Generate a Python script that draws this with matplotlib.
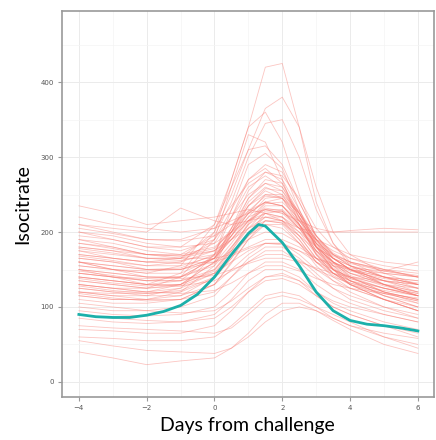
import numpy as np
import matplotlib
matplotlib.use("Agg")
import matplotlib.pyplot as plt
from matplotlib.ticker import MultipleLocator

days = [-4, -3, -2, -1, 0, 0.5, 1, 1.5, 2, 2.5, 3, 3.5, 4, 5, 6]

# Individual trajectories (isocitrate), one row per subject
subjects = [
    [160, 150, 145, 155, 210, 270, 340, 420, 425, 340, 240, 185, 155, 130, 115],
    [175, 165, 160, 165, 200, 250, 310, 365, 380, 340, 260, 200, 170, 145, 130],
    [140, 135, 130, 145, 200, 270, 340, 360, 320, 250, 190, 160, 140, 120, 105],
    [185, 180, 170, 170, 195, 240, 300, 345, 350, 300, 230, 185, 160, 140, 125],
    [130, 125, 125, 140, 190, 260, 330, 320, 270, 210, 170, 145, 130, 110, 95],
    [200, 190, 180, 180, 210, 260, 310, 315, 290, 240, 195, 170, 155, 140, 130],
    [120, 115, 115, 125, 170, 230, 290, 305, 285, 230, 180, 150, 130, 110, 95],
    [165, 160, 155, 160, 190, 230, 270, 290, 280, 240, 195, 165, 150, 135, 120],
    [150, 140, 130, 135, 170, 220, 270, 285, 265, 220, 180, 155, 140, 120, 110],
    [210, 200, 190, 190, 205, 235, 265, 280, 275, 245, 205, 180, 165, 150, 140],
    [135, 130, 125, 130, 160, 205, 255, 280, 270, 230, 185, 155, 135, 115, 100],
    [180, 175, 165, 165, 185, 220, 260, 275, 260, 220, 180, 160, 150, 140, 135],
    [115, 110, 110, 120, 155, 200, 245, 270, 265, 225, 180, 150, 130, 110, 95],
    [160, 150, 140, 140, 165, 205, 245, 265, 260, 225, 190, 165, 150, 130, 115],
    [195, 190, 180, 175, 190, 220, 250, 265, 255, 220, 190, 170, 160, 150, 145],
    [145, 140, 135, 140, 165, 200, 240, 260, 250, 215, 180, 160, 145, 130, 120],
    [125, 120, 120, 130, 160, 195, 235, 255, 245, 210, 170, 145, 130, 115, 100],
    [170, 165, 160, 160, 175, 205, 235, 250, 245, 215, 185, 165, 150, 135, 125],
    [155, 150, 145, 145, 165, 195, 225, 240, 235, 210, 180, 160, 145, 130, 120],
    [190, 185, 175, 170, 180, 200, 225, 240, 235, 210, 185, 170, 160, 150, 140],
    [130, 125, 120, 125, 145, 175, 210, 235, 235, 210, 175, 150, 135, 115, 105],
    [175, 170, 165, 165, 175, 195, 220, 230, 225, 205, 180, 165, 155, 140, 130],
    [140, 135, 130, 130, 150, 180, 210, 225, 220, 195, 165, 145, 135, 120, 110],
    [220, 210, 205, 200, 205, 215, 225, 230, 225, 215, 205, 200, 200, 200, 200],
    [165, 160, 150, 150, 165, 190, 215, 230, 230, 210, 185, 165, 150, 130, 115],
    [120, 115, 110, 115, 140, 170, 200, 220, 215, 190, 160, 140, 125, 110, 95],
    [200, 195, 185, 180, 185, 200, 215, 225, 220, 205, 190, 180, 170, 160, 155],
    [150, 145, 140, 140, 155, 180, 205, 220, 220, 200, 170, 150, 135, 120, 110],
    [110, 105, 105, 110, 130, 160, 190, 210, 210, 185, 155, 135, 120, 100, 85],
    [235, 225, 210, 215, 220, 225, 230, 225, 215, 205, 200, 200, 202, 205, 203],
    [180, 175, 170, 168, 175, 190, 205, 215, 212, 195, 175, 160, 150, 140, 135],
    [135, 130, 125, 128, 145, 170, 195, 210, 205, 185, 160, 145, 135, 125, 115],
    [210, 205, 200, 232, 215, 210, 215, 220, 215, 200, 180, 165, 155, 145, 140],
    [160, 155, 150, 150, 160, 175, 190, 200, 198, 185, 165, 150, 140, 125, 115],
    [125, 120, 115, 115, 130, 150, 170, 185, 185, 170, 150, 135, 125, 110, 100],
    [100, 95, 95, 100, 115, 140, 165, 180, 180, 165, 145, 125, 110, 95, 85],
    [145, 140, 135, 135, 145, 160, 175, 185, 185, 175, 160, 150, 140, 130, 125],
    [190, 180, 170, 165, 165, 170, 180, 190, 190, 180, 165, 155, 150, 145, 140],
    [115, 110, 110, 110, 120, 140, 160, 175, 175, 160, 140, 125, 115, 100, 90],
    [170, 165, 160, 158, 160, 168, 178, 185, 183, 175, 165, 158, 152, 148, 160],
    [95, 90, 88, 90, 100, 120, 145, 160, 160, 150, 130, 115, 105, 90, 80],
    [140, 135, 130, 128, 135, 148, 160, 170, 170, 162, 150, 140, 132, 122, 115],
    [85, 80, 78, 80, 90, 110, 135, 150, 150, 140, 120, 105, 95, 80, 70],
    [150, 145, 140, 138, 142, 150, 158, 165, 165, 160, 152, 145, 140, 135, 130],
    [130, 125, 120, 118, 122, 132, 145, 155, 155, 148, 138, 130, 125, 118, 112],
    [70, 68, 65, 65, 75, 95, 120, 140, 145, 135, 115, 100, 90, 75, 65],
    [60, 58, 55, 55, 60, 75, 95, 115, 120, 115, 100, 85, 75, 65, 58],
    [40, 32, 23, 28, 32, 45, 65, 90, 105, 105, 95, 82, 70, 50, 38],
    [75, 72, 70, 68, 65, 72, 90, 110, 115, 110, 100, 90, 80, 60, 45],
    [90, 85, 82, 80, 85, 100, 120, 135, 138, 130, 115, 100, 90, 75, 60],
    [105, 100, 95, 92, 95, 108, 125, 140, 142, 135, 120, 108, 100, 90, 80],
    [55, 48, 42, 40, 38, 45, 60, 80, 95, 100, 95, 85, 75, 60, 50],
    [155, 150, 148, 150, 165, 190, 220, 245, 248, 225, 190, 165, 150, 135, 125],
    [145, 140, 138, 140, 158, 185, 215, 240, 245, 225, 195, 170, 155, 140, 130],
    [178, 172, 165, 162, 170, 190, 215, 232, 228, 205, 175, 155, 145, 135, 130],
    [128, 122, 118, 120, 138, 165, 198, 225, 228, 205, 172, 150, 138, 125, 118],
    [160, 155, 150, 152, 170, 200, 235, 258, 255, 225, 185, 160, 148, 138, 132],
    [118, 112, 108, 110, 130, 158, 190, 215, 215, 195, 165, 145, 132, 118, 108],
    [205, 198, 190, 188, 195, 210, 228, 240, 235, 215, 190, 175, 165, 155, 148],
    [138, 132, 128, 130, 148, 178, 212, 238, 240, 218, 182, 158, 142, 128, 118],
    [168, 162, 155, 155, 168, 195, 225, 250, 250, 228, 195, 172, 160, 148, 140],
    [148, 142, 135, 135, 150, 175, 205, 228, 228, 208, 175, 152, 138, 125, 115],
    [185, 178, 170, 168, 178, 200, 228, 248, 245, 220, 188, 168, 158, 148, 142],
    [120, 118, 118, 122, 140, 165, 195, 215, 212, 190, 160, 142, 130, 118, 108],
]

# Group-level trend (teal line)
trend_days = [-4, -3.5, -3, -2.5, -2, -1.5, -1, -0.5, 0, 0.5, 1, 1.3, 1.5, 2,
              2.5, 3, 3.5, 4, 4.5, 5, 5.5, 6]
trend_vals = [90, 87, 86, 86, 89, 94, 102, 117, 140, 170, 198, 210, 208, 186,
              155, 120, 95, 82, 77, 75, 72, 68]

fig = plt.figure(figsize=(4.36, 4.40), dpi=100)
ax = fig.add_axes([0.142, 0.098, 0.853, 0.877])

for row in subjects:
    ax.plot(days, row, color="#F8766D", alpha=0.42, lw=0.6)

ax.plot(trend_days, trend_vals, color="#1CB0AA", lw=2)

ax.set_xlim(-4.5, 6.47)
ax.set_ylim(-20, 495)
ax.xaxis.set_major_locator(MultipleLocator(2))
ax.xaxis.set_minor_locator(MultipleLocator(1))
ax.yaxis.set_major_locator(MultipleLocator(100))
ax.yaxis.set_minor_locator(MultipleLocator(50))
ax.grid(which="major", color="#EBEBEB", lw=0.7)
ax.grid(which="minor", color="#F4F4F4", lw=0.5)
ax.set_axisbelow(True)

for s in ax.spines.values():
    s.set_color("#999999")
    s.set_linewidth(1.2)
ax.tick_params(which="major", length=3, color="#999999", labelsize=5,
               labelcolor="#555555", pad=3)
ax.tick_params(which="minor", length=0)

ax.set_xlabel("Days from challenge", fontsize=14, family="Lato", labelpad=4)
ax.set_ylabel("Isocitrate", fontsize=14, family="Lato", labelpad=6)

fig.savefig("out.png", dpi=100)
